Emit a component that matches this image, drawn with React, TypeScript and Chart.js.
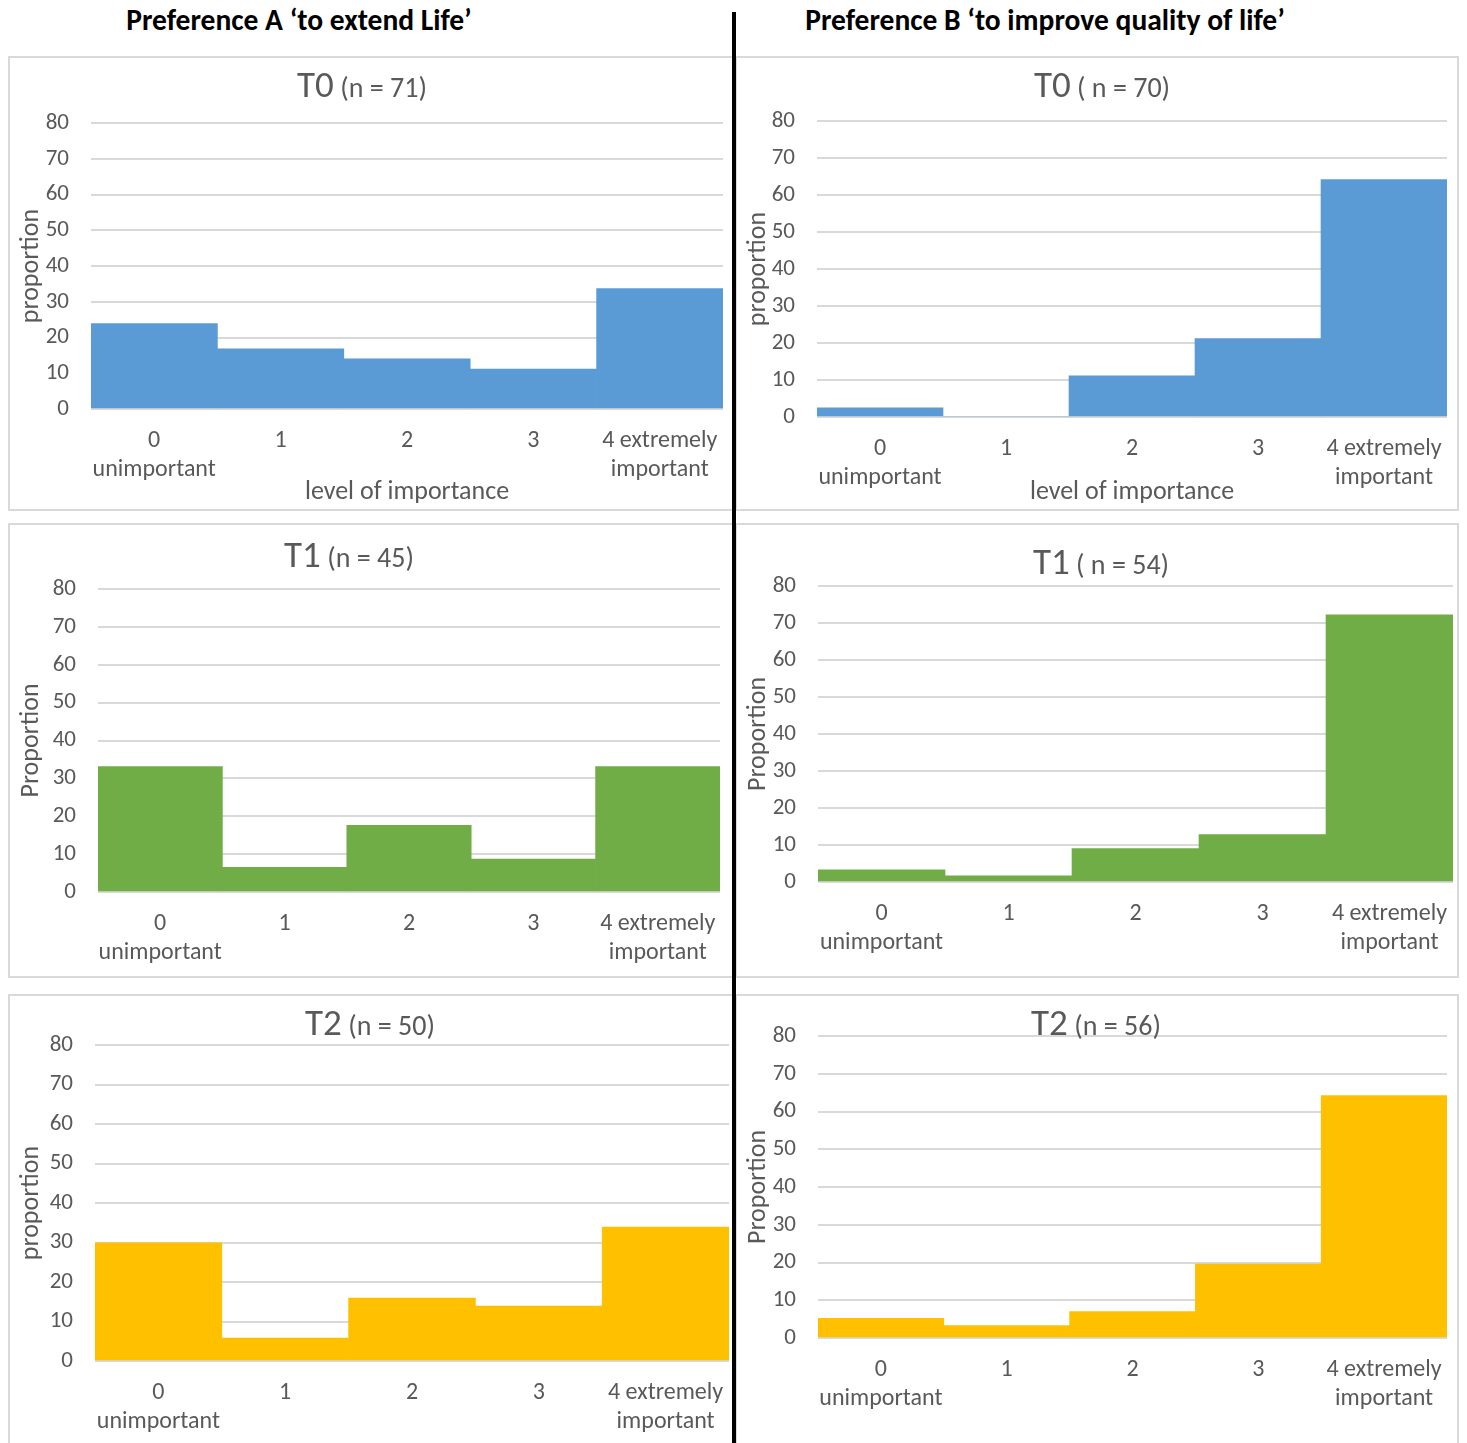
import React, { useEffect, useRef } from "react";
import { Chart, registerables } from "chart.js";

Chart.register(...registerables);

// ---------- data ----------
const categories: (string | string[])[] = [["0", "unimportant"], "1", "2", "3", ["4 extremely", "important"]];
const yMin = 0;
const yMax = 80;
const yStep = 10;

const prefA_T0 = [23.9, 16.8, 14.0, 11.2, 33.7];
const prefB_T0 = [2.5, 0, 11.1, 21.2, 64.2];
const prefA_T1 = [33.1, 6.5, 17.6, 8.7, 33.1];
const prefB_T1 = [3.3, 1.7, 9.0, 12.8, 72.2];
const prefA_T2 = [29.9, 5.8, 15.9, 13.9, 33.9];
const prefB_T2 = [5.2, 3.3, 7.0, 19.6, 64.2];

const headerA = "Preference A \u2018to extend Life\u2019";
const headerB = "Preference B \u2018to improve quality of life\u2019";
const timeLabels = ["T0", "T0", "T1", "T1", "T2", "T2"];
const sampleLabels = ["(n = 71)", "( n = 70)", "(n = 45)", "( n = 54)", "(n = 50)", "(n = 56)"];
const yTitles = ["proportion", "proportion", "Proportion", "Proportion", "proportion", "Proportion"];
const xTitles = ["level of importance", "level of importance", "", "", "", ""];

// ---------- style ----------
const FONT = "Carlito, Calibri, Lato, 'Open Sans', sans-serif";
const TEXT = "#595959";
const GRID = "#d9d9d9";
const BLUE = "#5b9bd5";
const GREEN = "#70ad47";
const GOLD = "#ffc000";

type Box = { x: number; y: number; w: number; h: number };
type Plot = { l: number; t: number; r: number; b: number };

interface PanelDef {
  values: number[];
  color: string;
  box: Box;
  plot: Plot;
  titleCx: number;
  titleCy: number;
  idx: number;
}

const panels: PanelDef[] = [
  { values: prefA_T0, color: BLUE, box: { x: 8, y: 56, w: 726, h: 455 }, plot: { l: 91, t: 123, r: 723, b: 409 }, titleCx: 362, titleCy: 85, idx: 0 },
  { values: prefB_T0, color: BLUE, box: { x: 735, y: 56, w: 724, h: 455 }, plot: { l: 817, t: 121, r: 1447, b: 417 }, titleCx: 1102, titleCy: 85, idx: 1 },
  { values: prefA_T1, color: GREEN, box: { x: 8, y: 523, w: 726, h: 455 }, plot: { l: 98, t: 589, r: 720, b: 892 }, titleCx: 349, titleCy: 555, idx: 2 },
  { values: prefB_T1, color: GREEN, box: { x: 735, y: 523, w: 724, h: 455 }, plot: { l: 818, t: 586, r: 1453, b: 882 }, titleCx: 1101, titleCy: 562, idx: 3 },
  { values: prefA_T2, color: GOLD, box: { x: 8, y: 994, w: 726, h: 470 }, plot: { l: 95, t: 1045, r: 729, b: 1361 }, titleCx: 370, titleCy: 1023, idx: 4 },
  { values: prefB_T2, color: GOLD, box: { x: 735, y: 994, w: 724, h: 470 }, plot: { l: 818, t: 1036, r: 1447, b: 1338 }, titleCx: 1096, titleCy: 1023, idx: 5 },
];

function Panel({ p }: { p: PanelDef }) {
  const ref = useRef<HTMLCanvasElement | null>(null);
  useEffect(() => {
    if (!ref.current) return;
    const { box, plot } = p;
    const xTitle = xTitles[p.idx];
    const chart = new Chart(ref.current, {
      type: "bar",
      data: {
        labels: categories as any,
        datasets: [
          {
            data: p.values,
            backgroundColor: p.color,
            borderWidth: 0,
            categoryPercentage: 1,
            barPercentage: 1,
          },
        ],
      },
      options: {
        responsive: false,
        maintainAspectRatio: false,
        animation: false,
        layout: {
          padding: { top: plot.t - box.y, right: box.x + box.w - plot.r, left: 0, bottom: 0 },
        },
        plugins: {
          legend: { display: false },
          tooltip: { enabled: false },
          title: { display: false },
        },
        scales: {
          x: {
            grid: { display: false, drawTicks: false },
            border: { display: false },
            ticks: {
              color: TEXT,
              font: { family: FONT, size: 24, lineHeight: 29 / 24 },
              padding: 17,
              maxRotation: 0,
              minRotation: 0,
              autoSkip: false,
            },
            title: {
              display: xTitle !== "",
              text: xTitle,
              color: TEXT,
              font: { family: FONT, size: 26, lineHeight: 1.2 },
              padding: { top: 0, bottom: 3 },
            },
            afterFit: (s: any) => {
              s.height = box.y + box.h - plot.b;
              s.paddingLeft = 0;
              s.paddingRight = 0;
            },
          },
          y: {
            min: yMin,
            max: yMax,
            ticks: {
              stepSize: yStep,
              color: TEXT,
              font: { family: FONT, size: 23 },
              padding: 22,
            },
            grid: { color: GRID, lineWidth: 2, drawTicks: false },
            border: { display: false },
            title: {
              display: true,
              text: yTitles[p.idx],
              color: TEXT,
              font: { family: FONT, size: 26, lineHeight: 1.2 },
              padding: { top: 8, bottom: 0 },
            },
            afterFit: (s: any) => {
              s.width = plot.l - box.x;
              s.paddingTop = 0;
              s.paddingBottom = 0;
            },
          },
        },
      } as any,
    });
    return () => chart.destroy();
  }, [p]);

  const { box } = p;
  return (
    <>
      <div
        style={{
          position: "absolute",
          left: box.x,
          top: box.y,
          width: box.w,
          height: box.h,
          border: `2px solid ${GRID}`,
          boxSizing: "border-box",
          background: "#fff",
        }}
      />
      <canvas
        ref={ref}
        width={box.w}
        height={box.h}
        style={{ position: "absolute", left: box.x, top: box.y, width: box.w, height: box.h }}
      />
      <div
        style={{
          position: "absolute",
          left: p.titleCx - 250,
          top: p.titleCy - 22,
          width: 500,
          height: 44,
          lineHeight: "44px",
          textAlign: "center",
          color: TEXT,
          fontFamily: FONT,
          whiteSpace: "pre",
        }}
      >
        <span style={{ fontSize: 37 }}>{timeLabels[p.idx]}</span>
        <span style={{ fontSize: 28 }}>{" " + sampleLabels[p.idx]}</span>
      </div>
    </>
  );
}

const headerStyle: React.CSSProperties = {
  position: "absolute",
  top: 5,
  width: 700,
  lineHeight: "30px",
  textAlign: "center",
  fontFamily: FONT,
  fontWeight: 700,
  fontSize: 29.5,
  color: "#000",
  whiteSpace: "nowrap",
};

export default function App() {
  return (
    <div
      style={{
        position: "absolute",
        left: 0,
        top: 0,
        width: 1467,
        height: 1443,
        overflow: "hidden",
        background: "#fff",
      }}
    >
      {panels.map((p) => (
        <Panel key={p.idx} p={p} />
      ))}
      <div style={{ ...headerStyle, left: 299 - 350 }}>{headerA}</div>
      <div style={{ ...headerStyle, left: 1045 - 350 }}>{headerB}</div>
      <div
        style={{
          position: "absolute",
          left: 732,
          top: 12,
          width: 4,
          height: 1443 - 12,
          background: "#000",
        }}
      />
    </div>
  );
}
